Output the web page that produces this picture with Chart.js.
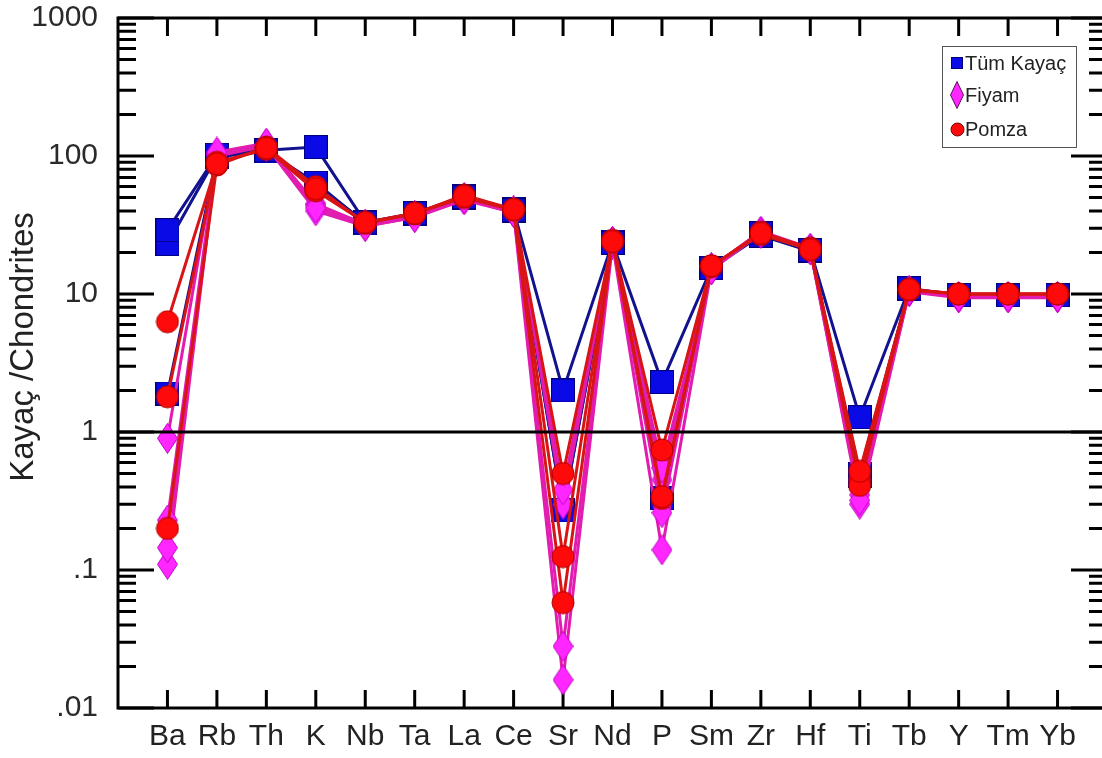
<!DOCTYPE html>
<html>
<head>
<meta charset="utf-8">
<script src="https://cdn.jsdelivr.net/npm/chart.js@4.4.1/dist/chart.umd.min.js"></script>
<style>
  html, body { margin: 0; padding: 0; background: #fff; overflow: hidden; }
</style>
</head>
<body>
<canvas id="spider" width="1110" height="758"></canvas>
<script>
// element order along the x axis
const elements = ['Ba', 'Rb', 'Th', 'K', 'Nb', 'Ta', 'La', 'Ce', 'Sr', 'Nd', 'P', 'Sm', 'Zr', 'Hf', 'Ti', 'Tb', 'Y', 'Tm', 'Yb'];

// y axis decades and their labels
const yTicks = [0.01, 0.1, 1, 10, 100, 1000];
const yTickLabels = ['.01', '.1', '1', '10', '100', '1000'];
const yTitle = 'Kayaç /Chondrites';

// chondrite normalised values, one array per sample
const tumKayac1 = [29, 102, 110, 116, 33, 38.5, 50.5, 40.5, 2.0, 23.5, 2.3, 15.4, 27.5, 20.8, 1.28, 11, 9.8, 9.8, 9.8];
const tumKayac2 = [23, 100, 108, 64, 32.5, 38, 51, 40, 0.27, 23.5, 0.33, 15.4, 26.5, 20.5, 0.5, 10.8, 9.8, 9.8, 9.8];
const tumKayac3 = [1.9, 98, 110, 62, 33, 38, 50, 41, 0.27, 24, 0.33, 15.5, 27, 20.5, 0.48, 10.8, 9.8, 9.8, 9.8];

const fiyam1 = [0.9, 107, 124, 42, 31, 36, 49, 39, 0.38, 24, 0.55, 15, 28, 21, 0.32, 10.6, 9.5, 9.5, 9.5];
const fiyam2 = [0.23, 104, 120, 44, 32, 37, 50, 40, 0.028, 24, 0.26, 15.5, 28.5, 21.5, 0.35, 10.6, 9.6, 9.6, 9.6];
const fiyam3 = [0.145, 100, 118, 40, 31, 36, 48, 39, 0.016, 23, 0.14, 15, 27.5, 21, 0.3, 10.4, 9.4, 9.4, 9.4];
const fiyam4 = [0.11, 103, 122, 45, 32, 37, 49, 40, 0.3, 24, 0.45, 15.5, 28, 21, 0.38, 10.5, 9.5, 9.5, 9.5];

const pomza1 = [6.3, 88, 114, 58, 33, 38.5, 51, 41, 0.5, 24, 0.74, 16, 27.5, 21, 0.52, 10.8, 10, 10, 10];
const pomza2 = [1.8, 90, 112, 56, 33, 38, 52, 41, 0.125, 24.5, 0.34, 16, 27, 21, 0.41, 10.8, 10, 10, 10];
const pomza3 = [0.2, 86, 116, 60, 32.5, 38.5, 50, 40.5, 0.058, 24, 0.33, 15.8, 28, 21.5, 0.45, 10.7, 10, 10, 10];

const refLevel = 1;
const FONT = "'Liberation Sans', Arial, sans-serif";

// ---- marker images ----
function makeCanvas(w, h) {
  const c = document.createElement('canvas');
  c.width = w; c.height = h;
  return c;
}
function squareMarker(size, fill, edge) {
  const c = makeCanvas(size, size), g = c.getContext('2d');
  g.fillStyle = fill; g.fillRect(0, 0, size, size);
  g.strokeStyle = edge; g.lineWidth = 1; g.strokeRect(0.5, 0.5, size - 1, size - 1);
  return c;
}
function diamondMarker(w, h, fill, edge) {
  const c = makeCanvas(w, h), g = c.getContext('2d');
  g.beginPath();
  g.moveTo(w / 2, 0.5); g.lineTo(w - 0.5, h / 2); g.lineTo(w / 2, h - 0.5); g.lineTo(0.5, h / 2);
  g.closePath();
  g.fillStyle = fill; g.fill();
  g.strokeStyle = edge; g.lineWidth = 1; g.stroke();
  return c;
}
function circleMarker(r, fill, edge) {
  const s = Math.ceil(r * 2 + 2), c = makeCanvas(s, s), g = c.getContext('2d');
  g.beginPath(); g.arc(s / 2, s / 2, r, 0, Math.PI * 2);
  g.fillStyle = fill; g.fill();
  g.strokeStyle = edge; g.lineWidth = 1; g.stroke();
  return c;
}

const groups = {
  tum:   { name: 'Tüm Kayaç', line: '#12128e', order: 3, marker: squareMarker(24, '#0a0ae6', '#00007a'),
           legendMarker: squareMarker(12, '#0a0ae6', '#00007a') },
  fiyam: { name: 'Fiyam', line: '#e21cb0', order: 2, marker: diamondMarker(21, 31, '#ff26ff', '#c000c0'),
           legendMarker: diamondMarker(14, 28, '#ff26ff', '#5a105a') },
  pomza: { name: 'Pomza', line: '#d81414', order: 1, marker: circleMarker(11, '#ff0a0a', '#b00000'),
           legendMarker: circleMarker(6.5, '#ff0a0a', '#6a0000') }
};

function series(values, group) {
  return {
    label: group.name,
    data: values.map((v, i) => ({ x: i, y: v })),
    borderColor: group.line,
    backgroundColor: group.line,
    borderWidth: 3,
    pointStyle: group.marker,
    pointRadius: 11,
    order: group.order,
    tension: 0
  };
}

const datasets = [
  series(tumKayac1, groups.tum), series(tumKayac2, groups.tum), series(tumKayac3, groups.tum),
  series(fiyam1, groups.fiyam), series(fiyam2, groups.fiyam), series(fiyam3, groups.fiyam), series(fiyam4, groups.fiyam),
  series(pomza1, groups.pomza), series(pomza2, groups.pomza), series(pomza3, groups.pomza)
];

// frame with inward ticks on all four sides, plus the rotated y title
const axisFrame = {
  id: 'axisFrame',
  beforeDatasetsDraw(chart) {
    const { ctx, chartArea: a, scales: { x, y } } = chart;
    ctx.save();
    ctx.strokeStyle = '#000';
    ctx.lineWidth = 3;
    ctx.beginPath();
    elements.forEach((_, i) => {
      const px = x.getPixelForValue(i);
      ctx.moveTo(px, a.bottom); ctx.lineTo(px, a.bottom - 18);
      ctx.moveTo(px, a.top); ctx.lineTo(px, a.top + 18);
    });
    yTicks.forEach((dec, d) => {
      const py = y.getPixelForValue(dec);
      ctx.moveTo(a.left, py); ctx.lineTo(a.left + 36, py);
      ctx.moveTo(a.right, py); ctx.lineTo(a.right - 36, py);
      if (d === yTicks.length - 1) return;
      for (let k = 2; k <= 9; k++) {
        const pm = y.getPixelForValue(dec * k);
        ctx.moveTo(a.left, pm); ctx.lineTo(a.left + 18, pm);
        ctx.moveTo(a.right, pm); ctx.lineTo(a.right - 18, pm);
      }
    });
    ctx.stroke();
    ctx.strokeRect(a.left, a.top, a.right - a.left, a.bottom - a.top);

    ctx.translate(24, (a.top + a.bottom) / 2 - 16);
    ctx.rotate(-Math.PI / 2);
    ctx.font = '33px ' + FONT;
    ctx.fillStyle = '#222';
    ctx.textAlign = 'center';
    ctx.textBaseline = 'middle';
    ctx.fillText(yTitle, 0, 0);
    ctx.restore();
  }
};

// horizontal reference line at chondrite = 1
const refLine = {
  id: 'refLine',
  afterDatasetsDraw(chart) {
    const { ctx, chartArea: a, scales: { y } } = chart;
    const py = y.getPixelForValue(refLevel);
    ctx.save();
    ctx.strokeStyle = '#000';
    ctx.lineWidth = 3;
    ctx.beginPath();
    ctx.moveTo(a.left, py); ctx.lineTo(a.right, py);
    ctx.stroke();
    ctx.restore();
  }
};

// boxed legend in the upper right corner
const boxLegend = {
  id: 'boxLegend',
  afterDraw(chart) {
    const ctx = chart.ctx;
    const entries = [groups.tum, groups.fiyam, groups.pomza];
    const bx = 942, by = 46, bw = 134, bh = 101;
    ctx.save();
    ctx.fillStyle = '#fff';
    ctx.fillRect(bx, by, bw, bh);
    ctx.strokeStyle = '#555';
    ctx.lineWidth = 1;
    ctx.strokeRect(bx + 0.5, by + 0.5, bw, bh);
    ctx.font = '20px ' + FONT;
    ctx.fillStyle = '#222';
    ctx.textBaseline = 'middle';
    const rows = [63, 95, 129];
    entries.forEach((g, i) => {
      const m = g.legendMarker;
      ctx.drawImage(m, Math.round(957 - m.width / 2), Math.round(rows[i] - m.height / 2));
      ctx.fillText(g.name, 965, rows[i] + 1);
    });
    ctx.restore();
  }
};

new Chart(document.getElementById('spider'), {
  type: 'line',
  data: { datasets },
  plugins: [axisFrame, refLine, boxLegend],
  options: {
    responsive: false,
    animation: false,
    layout: { autoPadding: false, padding: { top: 18, right: 3, left: 0, bottom: 0 } },
    plugins: { legend: { display: false }, tooltip: { enabled: false } },
    scales: {
      x: {
        type: 'linear',
        position: 'bottom',
        min: -1,
        max: 19,
        afterBuildTicks: s => { s.ticks = elements.map((_, i) => ({ value: i })); },
        afterFit: s => { s.height = 50; s.paddingLeft = 0; s.paddingRight = 0; },
        grid: { display: false, drawTicks: false },
        border: { display: false },
        ticks: {
          autoSkip: false,
          maxRotation: 0,
          padding: 11,
          color: '#222',
          font: { family: FONT, size: 30 },
          callback: v => elements[Math.round(v)] ?? ''
        }
      },
      y: {
        type: 'logarithmic',
        min: 0.01,
        max: 1000,
        afterBuildTicks: s => { s.ticks = yTicks.map(v => ({ value: v })); },
        afterFit: s => { s.width = 118; s.paddingTop = 0; s.paddingBottom = 0; },
        grid: { display: false, drawTicks: false },
        border: { display: false },
        ticks: {
          padding: 20,
          color: '#2a2a2a',
          font: { family: FONT, size: 30 },
          callback: v => {
            const k = yTicks.findIndex(t => Math.abs(t - v) / t < 1e-6);
            return k < 0 ? '' : yTickLabels[k];
          }
        }
      }
    }
  }
});
</script>
</body>
</html>
